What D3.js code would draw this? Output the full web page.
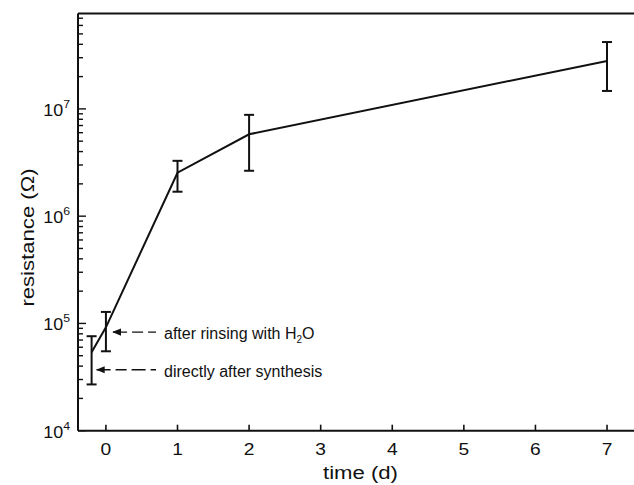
<!DOCTYPE html>
<html>
<head>
<meta charset="utf-8">
<script src="https://cdn.jsdelivr.net/npm/d3@7"></script>
<style>
  body { margin: 0; background: #fff; }
  text { font-family: "Liberation Sans", Arial, sans-serif; fill: #111; }
</style>
</head>
<body>
<svg id="chart" width="634" height="485"></svg>
<script>
// donnees
var days      = [-0.2, 0, 1, 2, 7];
var resistance = [5.4e4, 9.2e4, 2.54e6, 5.8e6, 2.8e7];
var err_low   = [2.7e4, 5.5e4, 1.69e6, 2.65e6, 1.47e7];
var err_high  = [7.6e4, 1.28e5, 3.28e6, 8.8e6, 4.2e7];
var x_ticks   = [0, 1, 2, 3, 4, 5, 6, 7];
var y_decades = [4, 5, 6, 7];
var notes     = [
  {text: "after rinsing with H", sub: "2", tail: "O", y: 8.3e4, x_end: 0.1},
  {text: "directly after synthesis", sub: "", tail: "", y: 3.7e4, x_end: -0.13}
];

var svg = d3.select("#chart");
// attention : "top" est reserve par window, d'ou les noms plot_*
var plot_left = 78, plot_right = 660, plot_top = 13.5, plot_bottom = 430.7;

var x = d3.scaleLinear().domain([-0.39, 7.74]).range([plot_left, plot_right]);
var y = d3.scaleLog().domain([1e4, 7.75e7]).range([plot_bottom, plot_top]);

var data = days.map(function(d, i) {
    return {t: d, r: resistance[i], lo: err_low[i], hi: err_high[i]};
});

// le texte de la figure d'origine est un peu etire en largeur
function stretched(px, py, sx, rot) {
    return "translate(" + px + "," + py + ")" + (rot ? " rotate(" + rot + ")" : "") + " scale(" + sx + ",1)";
}

// cadre : haut, gauche, bas (le cote droit sort de l'image)
svg.append("line").attr("x1", plot_left).attr("x2", 634).attr("y1", plot_top).attr("y2", plot_top)
   .attr("stroke", "#111").attr("stroke-width", 2);
svg.append("line").attr("x1", plot_left).attr("x2", plot_left).attr("y1", plot_top).attr("y2", plot_bottom)
   .attr("stroke", "#111").attr("stroke-width", 2);
svg.append("line").attr("x1", plot_left).attr("x2", 634).attr("y1", plot_bottom).attr("y2", plot_bottom)
   .attr("stroke", "#111").attr("stroke-width", 2);

// graduations x (vers l'interieur)
var xAxis = svg.append("g");
x_ticks.forEach(function(t) {
    xAxis.append("line").attr("x1", x(t)).attr("x2", x(t))
        .attr("y1", plot_bottom).attr("y2", plot_bottom - 6)
        .attr("stroke", "#111").attr("stroke-width", 1.6);
    xAxis.append("text").attr("transform", stretched(x(t), plot_bottom + 24, 1.2))
        .attr("text-anchor", "middle").style("font-size", "16px").text(t);
});

// graduations y log, majeures et mineures
var yAxis = svg.append("g");
y_decades.forEach(function(p) {
    for (var m = 1; m <= 9; m++) {
        var v = m * Math.pow(10, p);
        if (v > y.domain()[1]) break;
        yAxis.append("line").attr("x1", plot_left).attr("x2", plot_left + (m == 1 ? 8 : 5))
            .attr("y1", y(v)).attr("y2", y(v))
            .attr("stroke", "#111").attr("stroke-width", 1.4);
    }
    var lab = yAxis.append("text").attr("transform", stretched(plot_left - 8, y(Math.pow(10, p)) + 7, 1.12))
        .attr("text-anchor", "end").style("font-size", "16px");
    lab.append("tspan").text("10");
    lab.append("tspan").attr("dy", -8).style("font-size", "11px").text(p);
});

// titres des axes
svg.append("text").attr("transform", stretched(360.5, 479, 1.23))
   .attr("text-anchor", "middle").style("font-size", "18px").text("time (d)");
svg.append("text").attr("transform", stretched(34, 237.5, 1.23, -90))
   .attr("text-anchor", "middle").style("font-size", "18px").text("resistance (\u03A9)");

// courbe
var line = d3.line().x(function(d) { return x(d.t); }).y(function(d) { return y(d.r); });
svg.append("path").datum(data).attr("d", line)
   .attr("fill", "none").attr("stroke", "#111").attr("stroke-width", 2);

// barres d'erreur
var eb = svg.selectAll(".err").data(data).enter().append("g").attr("class", "err");
eb.append("line").attr("x1", function(d) { return x(d.t); }).attr("x2", function(d) { return x(d.t); })
  .attr("y1", function(d) { return y(d.lo); }).attr("y2", function(d) { return y(d.hi); })
  .attr("stroke", "#111").attr("stroke-width", 2);
["lo", "hi"].forEach(function(k) {
    eb.append("line").attr("x1", function(d) { return x(d.t) - 5; }).attr("x2", function(d) { return x(d.t) + 5; })
      .attr("y1", function(d) { return y(d[k]); }).attr("y2", function(d) { return y(d[k]); })
      .attr("stroke", "#111").attr("stroke-width", 2);
});

// fleches des annotations
svg.append("defs").append("marker").attr("id", "head")
   .attr("viewBox", "0 0 10 10").attr("refX", 1).attr("refY", 5)
   .attr("markerWidth", 9).attr("markerHeight", 9).attr("markerUnits", "userSpaceOnUse")
   .attr("orient", "auto")
   .append("path").attr("d", "M10,1 L0,5 L10,9 Z").attr("fill", "#111");

notes.forEach(function(n) {
    var yy = y(n.y);
    svg.append("line").attr("x1", x(n.x_end)).attr("x2", 156).attr("y1", yy).attr("y2", yy)
       .attr("stroke", "#111").attr("stroke-width", 1.3)
       .attr("stroke-dasharray", "14,5,11,5")
       .attr("marker-start", "url(#head)");
    var t = svg.append("text").attr("x", 164).attr("y", yy + 7).style("font-size", "16px");
    t.append("tspan").text(n.text);
    if (n.sub) {
        t.append("tspan").attr("dy", 4).style("font-size", "10px").text(n.sub);
        t.append("tspan").attr("dy", -4).text(n.tail);
    }
});
</script>
</body>
</html>
